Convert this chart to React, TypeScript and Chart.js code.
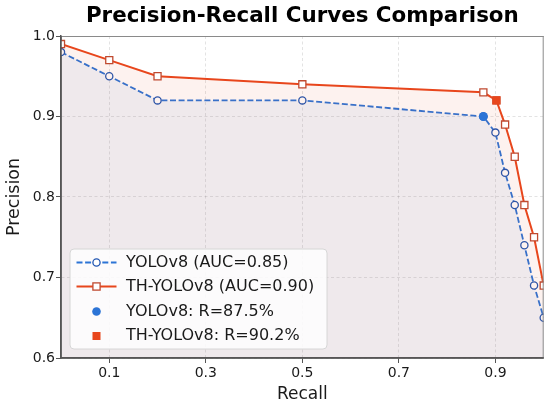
import React, { useEffect, useRef } from "react";
import { Chart, registerables } from "chart.js";

Chart.register(...registerables);

const yoloRecall = [0, 0.1, 0.2, 0.5, 0.875, 0.9, 0.92, 0.94, 0.96, 0.98, 1.0];
const yoloPrecision = [0.98, 0.95, 0.92, 0.92, 0.9, 0.88, 0.83, 0.79, 0.74, 0.69, 0.65];
const thRecall = [0, 0.1, 0.2, 0.5, 0.875, 0.902, 0.92, 0.94, 0.96, 0.98, 1.0];
const thPrecision = [0.99, 0.97, 0.95, 0.94, 0.93, 0.92, 0.89, 0.85, 0.79, 0.75, 0.69];
const yoloOpRecall = [0.875];
const yoloOpPrecision = [0.9];
const thOpRecall = [0.902];
const thOpPrecision = [0.92];
const xTicks = [0.1, 0.3, 0.5, 0.7, 0.9];
const yTicks = [0.6, 0.7, 0.8, 0.9, 1.0];
const seriesLabels = [
  "YOLOv8 (AUC=0.85)",
  "TH-YOLOv8 (AUC=0.90)",
  "YOLOv8: R=87.5%",
  "TH-YOLOv8: R=90.2%",
];
const titleText = "Precision-Recall Curves Comparison";
const xTitle = "Recall";
const yTitle = "Precision";

const BLUE = "#2c74d6";
const BLUE_EDGE = "#2257b2";
const RED = "#e8461c";
const RED_EDGE = "#c04a30";
const FONT = '"DejaVu Sans", sans-serif';

const toPts = (xs: number[], ys: number[]) => xs.map((x, i) => ({ x, y: ys[i] }));

const framePlugin = {
  id: "frame",
  afterDatasetsDraw(chart: any) {
    const { ctx, chartArea: a } = chart;
    ctx.save();
    ctx.lineWidth = 1;
    ctx.strokeStyle = "#8a8a8a";
    ctx.beginPath();
    ctx.moveTo(a.left, a.top + 0.5);
    ctx.lineTo(a.right, a.top + 0.5);
    ctx.moveTo(a.right - 0.5, a.top);
    ctx.lineTo(a.right - 0.5, a.bottom);
    ctx.stroke();
    ctx.lineWidth = 1.5;
    ctx.strokeStyle = "#555555";
    ctx.beginPath();
    ctx.moveTo(a.left, a.top);
    ctx.lineTo(a.left, a.bottom);
    ctx.lineTo(a.right, a.bottom);
    ctx.stroke();
    ctx.restore();
  },
  afterDraw(chart: any) {
    const { ctx, chartArea: a } = chart;
    ctx.save();
    // title
    ctx.fillStyle = "#000";
    ctx.font = `bold 21.4px ${FONT}`;
    ctx.textAlign = "center";
    ctx.textBaseline = "alphabetic";
    ctx.fillText(titleText, (a.left + a.right) / 2, 22);

    // legend
    const bx = 70, by = 249, bw = 257, bh = 100, r = 4;
    ctx.beginPath();
    ctx.moveTo(bx + r, by);
    ctx.lineTo(bx + bw - r, by);
    ctx.quadraticCurveTo(bx + bw, by, bx + bw, by + r);
    ctx.lineTo(bx + bw, by + bh - r);
    ctx.quadraticCurveTo(bx + bw, by + bh, bx + bw - r, by + bh);
    ctx.lineTo(bx + r, by + bh);
    ctx.quadraticCurveTo(bx, by + bh, bx, by + bh - r);
    ctx.lineTo(bx, by + r);
    ctx.quadraticCurveTo(bx, by, bx + r, by);
    ctx.closePath();
    ctx.fillStyle = "rgba(255,255,255,0.85)";
    ctx.fill();
    ctx.strokeStyle = "#d6d6d6";
    ctx.lineWidth = 1;
    ctx.stroke();

    const rowY = [262.5, 286.5, 311.5, 336];
    const x0 = 76.5, x1 = 116.5, xm = 96.5, tx = 126;
    // row 1: dashed blue with open circle
    ctx.strokeStyle = BLUE;
    ctx.lineWidth = 1.8;
    ctx.setLineDash([6, 2.6]);
    ctx.beginPath();
    ctx.moveTo(x0, rowY[0]);
    ctx.lineTo(x1, rowY[0]);
    ctx.stroke();
    ctx.setLineDash([]);
    ctx.beginPath();
    ctx.arc(xm, rowY[0], 3.6, 0, Math.PI * 2);
    ctx.fillStyle = "#fff";
    ctx.fill();
    ctx.strokeStyle = BLUE_EDGE;
    ctx.lineWidth = 1.3;
    ctx.stroke();
    // row 2: solid red with open square
    ctx.strokeStyle = RED;
    ctx.lineWidth = 2;
    ctx.beginPath();
    ctx.moveTo(x0, rowY[1]);
    ctx.lineTo(x1, rowY[1]);
    ctx.stroke();
    ctx.fillStyle = "#fff";
    ctx.fillRect(xm - 3.6, rowY[1] - 3.6, 7.2, 7.2);
    ctx.strokeStyle = RED_EDGE;
    ctx.lineWidth = 1.3;
    ctx.strokeRect(xm - 3.6, rowY[1] - 3.6, 7.2, 7.2);
    // row 3: filled blue dot
    ctx.beginPath();
    ctx.arc(xm, rowY[2], 4.3, 0, Math.PI * 2);
    ctx.fillStyle = BLUE;
    ctx.fill();
    // row 4: filled red square
    ctx.fillStyle = RED;
    ctx.fillRect(xm - 4, rowY[3] - 4, 8, 8);

    ctx.fillStyle = "#1a1a1a";
    ctx.font = `16px ${FONT}`;
    ctx.textAlign = "left";
    ctx.textBaseline = "middle";
    seriesLabels.forEach((t, i) => ctx.fillText(t, tx, rowY[i]));
    ctx.restore();
  },
};

export default function App() {
  const ref = useRef<HTMLCanvasElement | null>(null);

  useEffect(() => {
    if (!ref.current) return;
    const chart = new Chart(ref.current, {
      type: "line",
      data: {
        datasets: [
          {
            type: "scatter",
            label: seriesLabels[3],
            data: toPts(thOpRecall, thOpPrecision),
            pointStyle: "rect",
            pointRadius: 5.7,
            backgroundColor: RED,
            borderColor: RED,
            borderWidth: 0,
            pointBorderWidth: 0,
          } as any,
          {
            type: "scatter",
            label: seriesLabels[2],
            data: toPts(yoloOpRecall, yoloOpPrecision),
            pointStyle: "circle",
            pointRadius: 4.5,
            backgroundColor: BLUE,
            borderColor: BLUE,
            pointBorderWidth: 0,
          } as any,
          {
            label: seriesLabels[1],
            data: toPts(thRecall, thPrecision),
            borderColor: RED,
            borderWidth: 2,
            backgroundColor: "rgba(232,70,28,0.07)",
            fill: "start",
            tension: 0,
            pointStyle: "rect",
            pointRadius: 5,
            pointBackgroundColor: "#fff",
            pointBorderColor: RED_EDGE,
            pointBorderWidth: 1.3,
            clip: 0,
          } as any,
          {
            label: seriesLabels[0],
            data: toPts(yoloRecall, yoloPrecision),
            borderColor: BLUE,
            borderWidth: 1.8,
            borderDash: [6, 2.6],
            backgroundColor: "rgba(44,116,214,0.07)",
            fill: "start",
            tension: 0,
            pointStyle: "circle",
            pointRadius: 3.6,
            pointBackgroundColor: "#fff",
            pointBorderColor: BLUE_EDGE,
            pointBorderWidth: 1.3,
            clip: 0,
          } as any,
        ],
      },
      options: {
        responsive: false,
        animation: false,
        devicePixelRatio: 1,
        layout: { padding: { top: 36, right: 6, left: 0, bottom: 0 } },
        plugins: {
          legend: { display: false },
          title: { display: false },
          tooltip: { enabled: false },
        },
        scales: {
          x: {
            type: "linear",
            min: 0,
            max: 1,
            afterBuildTicks: (s: any) => {
              s.ticks = xTicks.map((v) => ({ value: v }));
            },
            afterFit: (s: any) => {
              s.height = 49;
            },
            ticks: {
              callback: (v: any) => Number(v).toFixed(1),
              font: { family: FONT, size: 14 },
              color: "#1a1a1a",
              padding: 2,
              maxRotation: 0,
              autoSkip: false,
            },
            grid: {
              color: "rgba(0,0,0,0.14)",
              lineWidth: 0.8,
              tickColor: "#555",
              tickLength: 5,
              tickWidth: 1,
            },
            border: { display: true, color: "#555", width: 1.5, dash: [3, 2.5] },
            title: {
              display: true,
              text: xTitle,
              font: { family: FONT, size: 17 },
              color: "#1a1a1a",
              padding: { top: 0, bottom: 2.5 },
            },
          },
          y: {
            type: "linear",
            min: 0.6,
            max: 1.0,
            afterBuildTicks: (s: any) => {
              s.ticks = yTicks.map((v) => ({ value: v }));
            },
            afterFit: (s: any) => {
              s.width = 61;
            },
            ticks: {
              callback: (v: any) => Number(v).toFixed(1),
              font: { family: FONT, size: 14 },
              color: "#1a1a1a",
              padding: 1,
              autoSkip: false,
            },
            grid: {
              color: "rgba(0,0,0,0.14)",
              lineWidth: 0.8,
              tickColor: "#555",
              tickLength: 5,
              tickWidth: 1,
            },
            border: { display: true, color: "#555", width: 1.5, dash: [3, 2.5] },
            title: {
              display: true,
              text: yTitle,
              font: { family: FONT, size: 17.5 },
              color: "#1a1a1a",
              padding: { top: 4, bottom: 0 },
            },
          },
        },
      },
      plugins: [framePlugin],
    } as any);
    return () => chart.destroy();
  }, []);

  return (
    <div style={{ position: "absolute", left: 0, top: 0, width: 550, height: 407 }}>
      <canvas ref={ref} width={550} height={407} style={{ display: "block" }} />
    </div>
  );
}
